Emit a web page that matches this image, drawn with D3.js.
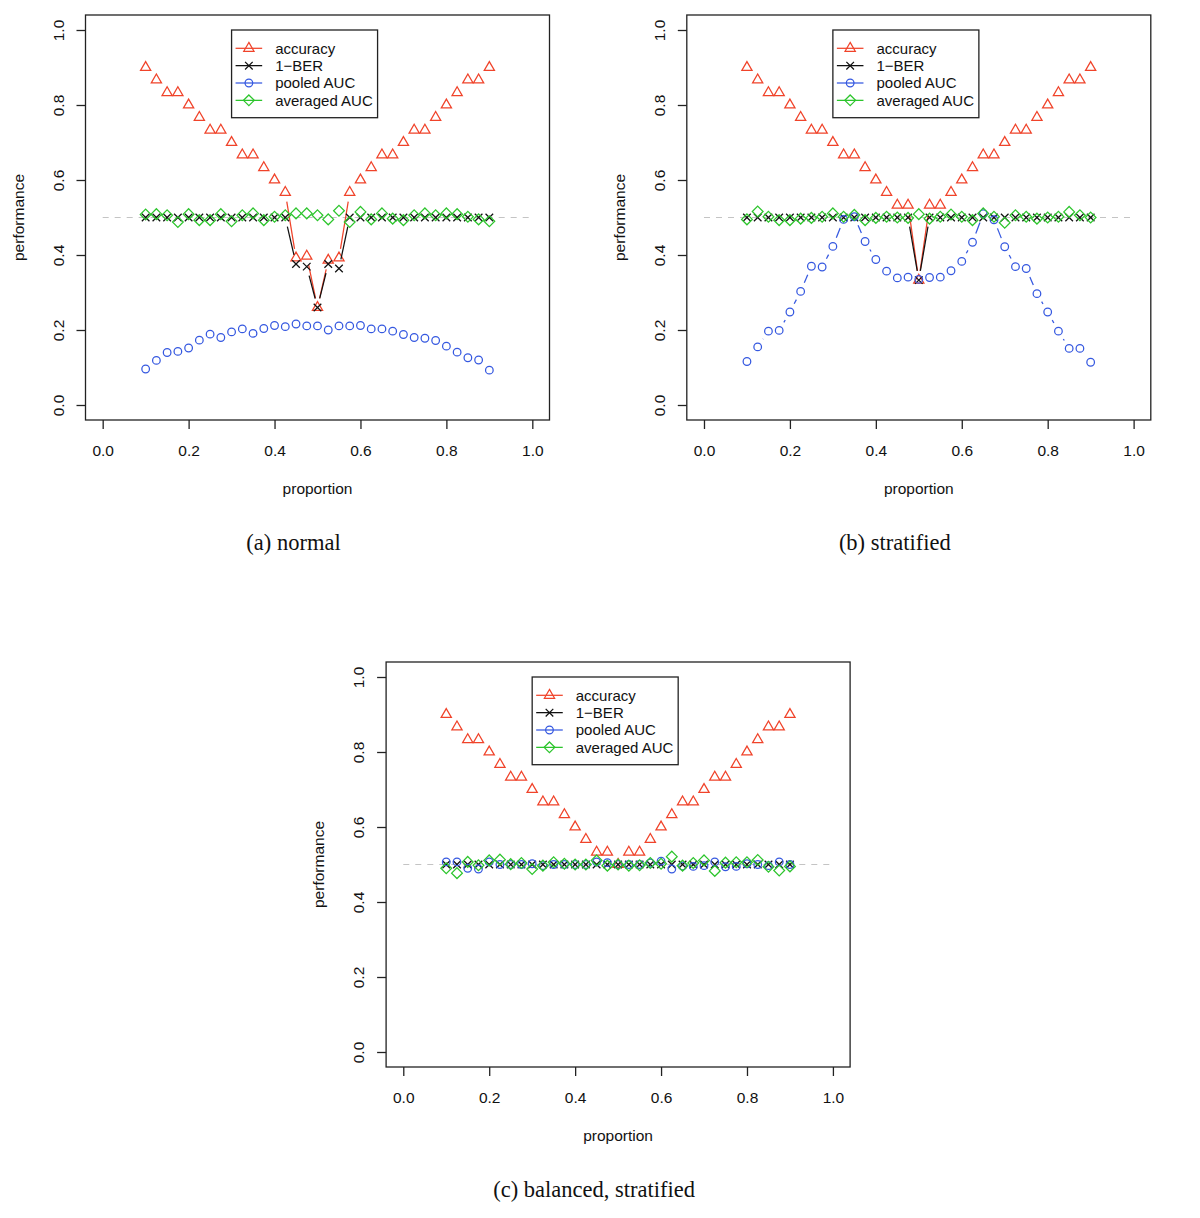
<!DOCTYPE html>
<html>
<head>
<meta charset="utf-8">
<script src="https://cdn.jsdelivr.net/npm/d3@7"></script>
<style>
  body { margin: 0; background: #fff; }
</style>
</head>
<body>
<div id="chart-area"></div>
<script>
// x values shared by all three panels
const proportion = [0.1, 0.125, 0.15, 0.175, 0.2, 0.225, 0.25, 0.275, 0.3, 0.325, 0.35,
  0.375, 0.4, 0.425, 0.45, 0.475, 0.5, 0.525, 0.55, 0.575, 0.6, 0.625, 0.65, 0.675,
  0.7, 0.725, 0.75, 0.775, 0.8, 0.825, 0.85, 0.875, 0.9]

// (a) normal
const accuracyNormal = [0.900, 0.867, 0.833, 0.833, 0.800, 0.767, 0.733, 0.733, 0.700, 0.667, 0.667,
  0.633, 0.600, 0.567, 0.392, 0.397, 0.260, 0.386, 0.392, 0.567, 0.600, 0.633, 0.667, 0.667,
  0.700, 0.733, 0.733, 0.767, 0.800, 0.833, 0.867, 0.867, 0.900]
const berNormal = [0.5, 0.5, 0.5, 0.5, 0.5, 0.5, 0.5, 0.5, 0.5, 0.5, 0.5,
  0.5, 0.5, 0.5, 0.376, 0.369, 0.260, 0.376, 0.364, 0.5, 0.5, 0.5, 0.5, 0.5,
  0.5, 0.5, 0.5, 0.5, 0.5, 0.5, 0.5, 0.5, 0.5]
const pooledNormal = [0.096, 0.119, 0.140, 0.143, 0.152, 0.173, 0.189, 0.180, 0.195, 0.203, 0.191,
  0.204, 0.212, 0.209, 0.216, 0.211, 0.211, 0.200, 0.211, 0.211, 0.212, 0.203, 0.203, 0.197,
  0.188, 0.180, 0.178, 0.172, 0.157, 0.141, 0.126, 0.120, 0.093]
const averagedNormal = [0.508, 0.509, 0.506, 0.488, 0.509, 0.493, 0.493, 0.509, 0.490, 0.506, 0.511,
  0.493, 0.502, 0.506, 0.511, 0.511, 0.506, 0.495, 0.518, 0.488, 0.515, 0.495, 0.511, 0.497,
  0.493, 0.506, 0.511, 0.506, 0.511, 0.509, 0.502, 0.495, 0.490]

// (b) stratified
const accuracyStratified = [0.900, 0.867, 0.833, 0.833, 0.800, 0.767, 0.733, 0.733, 0.700, 0.667, 0.667,
  0.633, 0.600, 0.567, 0.533, 0.533, 0.333, 0.533, 0.533, 0.567, 0.600, 0.633, 0.667, 0.667,
  0.700, 0.733, 0.733, 0.767, 0.800, 0.833, 0.867, 0.867, 0.900]
const berStratified = [0.5, 0.5, 0.5, 0.5, 0.5, 0.5, 0.5, 0.5, 0.5, 0.5, 0.5,
  0.5, 0.5, 0.5, 0.5, 0.5, 0.333, 0.5, 0.5, 0.5, 0.5, 0.5, 0.5, 0.5,
  0.5, 0.5, 0.5, 0.5, 0.5, 0.5, 0.5, 0.5, 0.5]
const pooledStratified = [0.116, 0.155, 0.197, 0.199, 0.248, 0.303, 0.370, 0.368, 0.423, 0.495, 0.502,
  0.436, 0.388, 0.357, 0.339, 0.341, 0.335, 0.340, 0.341, 0.358, 0.383, 0.434, 0.510, 0.494,
  0.422, 0.369, 0.364, 0.297, 0.248, 0.197, 0.151, 0.151, 0.114]
const averagedStratified = [0.495, 0.516, 0.502, 0.493, 0.493, 0.497, 0.499, 0.502, 0.511, 0.502, 0.507,
  0.493, 0.499, 0.502, 0.500, 0.499, 0.509, 0.497, 0.502, 0.508, 0.502, 0.493, 0.511, 0.502,
  0.486, 0.506, 0.502, 0.497, 0.500, 0.502, 0.515, 0.506, 0.500]

// (c) balanced, stratified
const accuracyBalanced = [0.900, 0.867, 0.833, 0.833, 0.800, 0.767, 0.733, 0.733, 0.700, 0.667, 0.667,
  0.633, 0.600, 0.567, 0.533, 0.533, 0.500, 0.533, 0.533, 0.567, 0.600, 0.633, 0.667, 0.667,
  0.700, 0.733, 0.733, 0.767, 0.800, 0.833, 0.867, 0.867, 0.900]
const berBalanced = [0.5, 0.5, 0.5, 0.5, 0.5, 0.5, 0.5, 0.5, 0.5, 0.5, 0.5,
  0.5, 0.5, 0.5, 0.5, 0.5, 0.5, 0.5, 0.5, 0.5, 0.5, 0.5, 0.5, 0.5,
  0.5, 0.5, 0.5, 0.5, 0.5, 0.5, 0.5, 0.5, 0.5]
const pooledBalanced = [0.507, 0.507, 0.490, 0.488, 0.507, 0.500, 0.500, 0.500, 0.502, 0.497, 0.500,
  0.500, 0.500, 0.500, 0.507, 0.505, 0.500, 0.500, 0.500, 0.504, 0.509, 0.488, 0.496, 0.495,
  0.497, 0.507, 0.494, 0.495, 0.502, 0.500, 0.497, 0.507, 0.500]
const averagedBalanced = [0.490, 0.477, 0.507, 0.498, 0.511, 0.513, 0.501, 0.504, 0.488, 0.497, 0.506,
  0.502, 0.500, 0.500, 0.511, 0.497, 0.500, 0.497, 0.498, 0.504, 0.502, 0.521, 0.497, 0.504,
  0.511, 0.483, 0.505, 0.506, 0.506, 0.512, 0.494, 0.484, 0.495]

const seriesNames = ["accuracy", "1\u2212BER", "pooled AUC", "averaged AUC"]
const captions = ["(a) normal", "(b) stratified", "(c) balanced, stratified"]
const xTicks = [0, 0.2, 0.4, 0.6, 0.8, 1.0]
const yTicks = [0, 0.2, 0.4, 0.6, 0.8, 1.0]
const refLine = [0, 1]   // x extent of the grey dashed line at 0.5

const COLORS = ["#f0432a", "#111111", "#3558e0", "#2cc52c"]
const SHAPES = ["triangle", "cross", "circle", "diamond"]
const SANS = "Liberation Sans, Arial, sans-serif"
const SERIF = "Liberation Serif, Times New Roman, serif"

const BOX_W = 464
const BOX_H = 405
const R = 3.8      // R's symbol radius
const GAP = 9.3    // type="b" gap around points
const SW = 1.25

const panels = [
  { left: 85.5, top: 15, series: [accuracyNormal, berNormal, pooledNormal, averagedNormal] },
  { left: 686.8, top: 15, series: [accuracyStratified, berStratified, pooledStratified, averagedStratified] },
  { left: 386.1, top: 662, series: [accuracyBalanced, berBalanced, pooledBalanced, averagedBalanced] }
]

const svg = d3.select("#chart-area").append("svg")
  .attr("width", 1200)
  .attr("height", 1218)
  .attr("font-family", SANS)

function drawMarker(g, shape, cx, cy, color) {
  let d
  if (shape === "circle") {
    g.append("circle").attr("cx", cx).attr("cy", cy).attr("r", R)
      .attr("fill", "none").attr("stroke", color).attr("stroke-width", SW)
    return
  } else if (shape === "triangle") {
    const r = 1.5551 * R, xc = 1.3468 * R, yc = 0.7776 * R
    d = `M${cx},${cy - r}L${cx + xc},${cy + yc}L${cx - xc},${cy + yc}Z`
  } else if (shape === "diamond") {
    const h = Math.SQRT2 * R
    d = `M${cx},${cy - h}L${cx + h},${cy}L${cx},${cy + h}L${cx - h},${cy}Z`
  } else {
    d = `M${cx - R},${cy - R}L${cx + R},${cy + R}M${cx - R},${cy + R}L${cx + R},${cy - R}`
  }
  g.append("path").attr("d", d)
    .attr("fill", "none").attr("stroke", color).attr("stroke-width", SW)
}

panels.forEach((p, pi) => {
  const g = svg.append("g")

  const x = d3.scaleLinear().domain([-0.04, 1.04]).range([p.left, p.left + BOX_W])
  const y = d3.scaleLinear().domain([-0.04, 1.04]).range([p.top + BOX_H, p.top])
  const bottom = p.top + BOX_H

  // dashed reference at 0.5
  g.append("line")
    .attr("x1", x(refLine[0])).attr("x2", x(refLine[1]))
    .attr("y1", y(0.5)).attr("y2", y(0.5))
    .attr("stroke", "#c4c4c4").attr("stroke-width", 1.2)
    .attr("stroke-dasharray", "6,6")

  // series, drawn like R's type = "b"
  p.series.forEach((values, si) => {
    const pts = values.map((v, i) => [x(proportion[i]), y(v)])
    const segs = []
    for (let i = 1; i < pts.length; i++) {
      const [x1, y1] = pts[i - 1], [x2, y2] = pts[i]
      const L = Math.hypot(x2 - x1, y2 - y1)
      if (L > 2 * GAP) {
        const ux = (x2 - x1) / L, uy = (y2 - y1) / L
        segs.push([x1 + ux * GAP, y1 + uy * GAP, x2 - ux * GAP, y2 - uy * GAP])
      }
    }
    g.selectAll(null).data(segs).enter().append("line")
      .attr("x1", d => d[0]).attr("y1", d => d[1])
      .attr("x2", d => d[2]).attr("y2", d => d[3])
      .attr("stroke", COLORS[si]).attr("stroke-width", SW)
    pts.forEach(pt => drawMarker(g, SHAPES[si], pt[0], pt[1], COLORS[si]))
  })

  // box
  g.append("rect")
    .attr("x", p.left).attr("y", p.top)
    .attr("width", BOX_W).attr("height", BOX_H)
    .attr("fill", "none").attr("stroke", "#222").attr("stroke-width", 1.3)

  // X axis
  const xAxis = g.append("g").attr("transform", `translate(0, ${bottom})`)
    .call(d3.axisBottom(x).tickValues(xTicks).tickFormat(d3.format(".1f")).tickSize(9).tickPadding(0))
  xAxis.select(".domain").remove()
  xAxis.selectAll("line").attr("stroke", "#222").attr("stroke-width", 1.3)
  xAxis.selectAll("text")
    .attr("y", 36).attr("dy", null)
    .attr("font-size", "15.5px").attr("fill", "#111")
    .attr("font-family", SANS)

  // Y axis
  const yAxis = g.append("g").attr("transform", `translate(${p.left}, 0)`)
    .call(d3.axisLeft(y).tickValues(yTicks).tickFormat(d3.format(".1f")).tickSize(9))
  yAxis.select(".domain").remove()
  yAxis.selectAll("line").attr("stroke", "#222").attr("stroke-width", 1.3)
  yAxis.selectAll("text")
    .attr("x", null).attr("dy", null)
    .attr("transform", "translate(-22, 0) rotate(-90)")
    .attr("text-anchor", "middle")
    .attr("font-size", "15.5px").attr("fill", "#111")
    .attr("font-family", SANS)

  // axis labels
  g.append("text")
    .attr("x", p.left + BOX_W / 2).attr("y", bottom + 74)
    .attr("text-anchor", "middle").attr("font-size", "15.5px").attr("fill", "#111")
    .text("proportion")
  g.append("text")
    .attr("transform", `translate(${p.left - 62}, ${p.top + BOX_H / 2}) rotate(-90)`)
    .attr("text-anchor", "middle").attr("font-size", "15.5px").attr("fill", "#111")
    .text("performance")

  // legend with its top-left corner at (0.3, 1.0)
  const lx = x(0.3), ly = y(1.0)
  const leg = g.append("g")
  leg.append("rect")
    .attr("x", lx).attr("y", ly).attr("width", 146).attr("height", 87.7)
    .attr("fill", "#fff").attr("stroke", "#222").attr("stroke-width", 1.3)
  seriesNames.forEach((name, i) => {
    const ry = ly + 18.3 + 17.35 * i
    leg.append("line")
      .attr("x1", lx + 4).attr("x2", lx + 30.6).attr("y1", ry).attr("y2", ry)
      .attr("stroke", COLORS[i]).attr("stroke-width", SW)
    drawMarker(leg, SHAPES[i], lx + 17.3, ry, COLORS[i])
    leg.append("text")
      .attr("x", lx + 43.6).attr("y", ry + 5.3)
      .attr("font-size", "15px").attr("fill", "#111")
      .text(name)
  })

  // caption below the panel
  g.append("text")
    .attr("x", p.left + BOX_W / 2 - 24).attr("y", bottom + 130)
    .attr("text-anchor", "middle")
    .attr("font-family", SERIF)
    .attr("font-size", "22.5px").attr("fill", "#111")
    .text(captions[pi])
})
</script>
</body>
</html>
